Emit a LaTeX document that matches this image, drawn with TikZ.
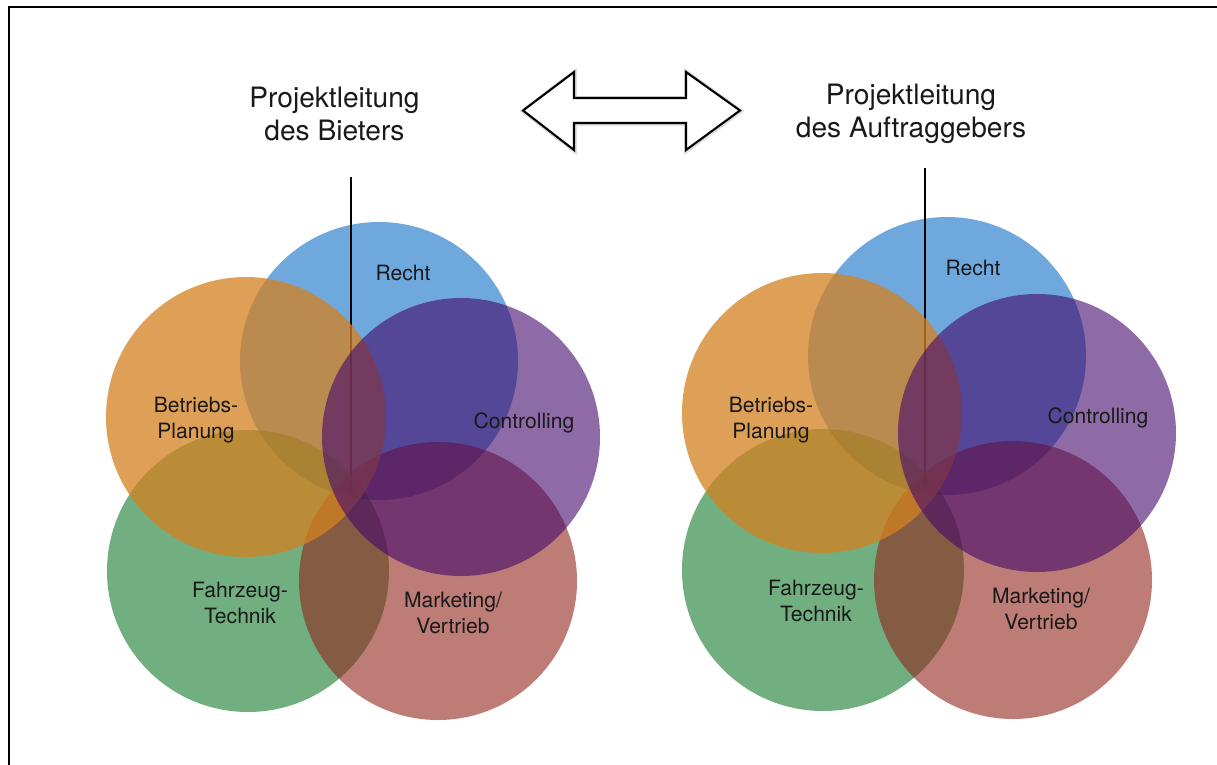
\documentclass[tikz,border=0pt]{standalone}
\usepackage{fontspec}
\setmainfont{TeX Gyre Heros}
\usepackage{tikz}
\usepackage{xcolor}
\definecolor{blau}{RGB}{15,110,198}
\definecolor{orange}{RGB}{211,128,31}
\definecolor{lila}{RGB}{67,7,107}
\definecolor{gruen}{RGB}{20,122,43}
\definecolor{rot}{RGB}{145,37,27}
\definecolor{schrift}{RGB}{25,25,25}

\begin{document}
\begin{tikzpicture}[
    kreis/.style={fill opacity=0.6},
    titel/.style={align=center, text=schrift, font=\fontsize{8}{9.4}\selectfont},
    bereich/.style={align=center, text=schrift, font=\fontsize{6}{7.4}\selectfont}
  ]
        \useasboundingbox (0,0) rectangle (12.17,-7.64);

        % Rahmen
        \draw[line width=0.6pt] (0.09,-7.7) -- (0.09,-0.07) -- (12.2,-0.07);

        % Ueberschriften
        \node[titel] (titelBieter) at (3.345,-1.135) {Projektleitung\\des Bieters};
        \node[titel] (titelAG) at (9.11,-1.135) {Projektleitung\\des Auftraggebers};

        % Doppelpfeil
        \draw[black!12, line width=1.4pt, line join=miter] (5.235,-1.11) -- (5.745,-0.725) -- (5.745,-0.985) -- (6.865,-0.985) -- (6.865,-0.725) -- (7.405,-1.11) -- (6.865,-1.505) -- (6.865,-1.235) -- (5.745,-1.235) -- (5.745,-1.505) -- cycle;
        \draw[fill=white, line width=0.6pt, line join=miter] (5.23,-1.105) -- (5.74,-0.72) -- (5.74,-0.98) -- (6.86,-0.98) -- (6.86,-0.72) -- (7.40,-1.105) -- (6.86,-1.50) -- (6.86,-1.23) -- (5.74,-1.23) -- (5.74,-1.50) -- cycle;

        % Linke Gruppe (Bieter)
        \fill[blau, kreis] (3.79,-3.61) circle (1.39);  % Recht

        \coordinate (obenBieter) at (3.51,-1.77);
        \coordinate (untenBieter) at (3.51,-4.89);
        \draw[line width=0.6pt] (obenBieter) -- (untenBieter);
        \fill (untenBieter) circle (0.04);

        \fill[gruen, kreis] (2.48,-5.71) circle (1.41);  % Fahrzeug-Technik
        \fill[rot, kreis] (4.38,-5.81) circle (1.39);  % Marketing/Vertrieb
        \fill[orange, fill opacity=0.75] (2.46,-4.17) circle (1.40);  % Betriebs-Planung
        \fill[lila, kreis] (4.61,-4.37) circle (1.39);  % Controlling

        % Beschriftungen
        \node[bereich] (rechtL) at (4.03,-2.73) {Recht};
        \node[bereich] (planungL) at (1.96,-4.20) {Betriebs-\\Planung};
        \node[bereich] (controllingL) at (5.24,-4.23) {Controlling};
        \node[bereich] (technikL) at (2.40,-6.025) {Fahrzeug-\\Technik};
        \node[bereich] (marketingL) at (4.53,-6.13) {Marketing/\\Vertrieb};

        % Rechte Gruppe (Auftraggeber)
        \fill[blau, kreis] (9.47,-3.56) circle (1.39);  % Recht

        \coordinate (obenAG) at (9.25,-1.68);
        \coordinate (untenAG) at (9.25,-4.83);
        \draw[line width=0.6pt] (obenAG) -- (untenAG);
        \fill (untenAG) circle (0.04);

        \fill[gruen, kreis] (8.23,-5.70) circle (1.41);  % Fahrzeug-Technik
        \fill[rot, kreis] (10.13,-5.80) circle (1.39);  % Marketing/Vertrieb
        \fill[orange, fill opacity=0.75] (8.22,-4.13) circle (1.40);  % Betriebs-Planung
        \fill[lila, kreis] (10.37,-4.33) circle (1.39);  % Controlling

        % Beschriftungen
        \node[bereich] (rechtR) at (9.73,-2.68) {Recht};
        \node[bereich] (planungR) at (7.71,-4.20) {Betriebs-\\Planung};
        \node[bereich] (controllingR) at (10.98,-4.18) {Controlling};
        \node[bereich] (technikR) at (8.16,-6.01) {Fahrzeug-\\Technik};
        \node[bereich] (marketingR) at (10.41,-6.09) {Marketing/\\Vertrieb};
\end{tikzpicture}
\end{document}
